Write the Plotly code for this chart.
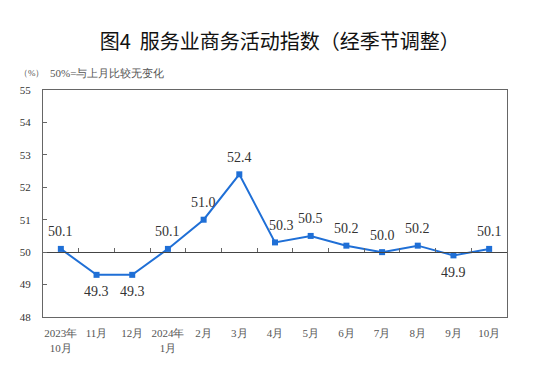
import plotly.graph_objects as go

months = ["2023年<br>10月", "11月", "12月", "2024年<br>1月", "2月", "3月", "4月",
          "5月", "6月", "7月", "8月", "9月", "10月"]
values = [50.1, 49.3, 49.3, 50.1, 51.0, 52.4, 50.3, 50.5, 50.2, 50.0, 50.2, 49.9, 50.1]
label_above = [True, False, False, True, True, True, True, True, True, True, True, False, True]
y_ticks = [48, 49, 50, 51, 52, 53, 54, 55]

fig = go.Figure()
fig.add_trace(go.Scatter(
    x=months, y=values, mode="lines+markers",
    line=dict(color="#1f6fd6", width=2),
    marker=dict(symbol="square", size=6, color="#1f6fd6"),
    cliponaxis=False, showlegend=False,
))
# overlay axis for the 50 line with boundary ticks
fig.add_trace(go.Scatter(x=months, y=[None]*len(months), xaxis="x2", showlegend=False,
                         hoverinfo="skip"))

annotations = [
    dict(text="（%）", xref="paper", yref="paper", x=-0.057, y=1.075,
         xanchor="left", yanchor="middle", showarrow=False,
         font=dict(family="Liberation Serif", size=9, color="#555555")),
    dict(text="50%=与上月比较无变化", xref="paper", yref="paper", x=0.011, y=1.075,
         xanchor="left", yanchor="middle", showarrow=False,
         font=dict(family="Liberation Serif", size=11, color="#555555")),
]
for i, (m, v, up) in enumerate(zip(months, values, label_above)):
    annotations.append(dict(
        x=m, y=v, xref="x", yref="y", text=f"{v:.1f}", showarrow=False,
        yshift=17 if up else -17, xshift=6 if i == 6 else 0,
        xanchor="center", yanchor="middle",
        font=dict(family="Liberation Serif", size=14, color="#333333")))

fig.update_layout(
    width=533, height=366,
    margin=dict(l=29, r=34, t=82, b=57),
    paper_bgcolor="white", plot_bgcolor="white",
    title=dict(text="图4  服务业商务活动指数（经季节调整）", x=0.51, xanchor="center",
               y=0.907, yanchor="middle",
               font=dict(family="Noto Sans CJK SC", size=20, color="#111111")),
    xaxis=dict(type="category", range=[-0.5, 12.5], showline=True, mirror=True,
               linecolor="#666666", linewidth=1, ticks="", showgrid=False,
               ticklabelstandoff=6,
               tickfont=dict(family="Liberation Serif", size=11, color="#555555")),
    xaxis2=dict(type="category", overlaying="x", anchor="free",
                position=(50 - 48) / 7, range=[-0.5, 12.5], showline=True,
                linecolor="#444444", linewidth=1, ticks="inside", ticklen=4,
                tickcolor="#666666", tickson="boundaries", showticklabels=False,
                showgrid=False, side="bottom"),
    yaxis=dict(range=[48, 55], tickvals=y_ticks, showline=True, mirror=True,
               linecolor="#666666", linewidth=1, ticks="inside", ticklen=4,
               tickcolor="#666666", showgrid=False, zeroline=False,
               ticklabelstandoff=9,
               tickfont=dict(family="Liberation Serif", size=11, color="#333333")),
    annotations=annotations,
)

fig.write_html("out.html")
